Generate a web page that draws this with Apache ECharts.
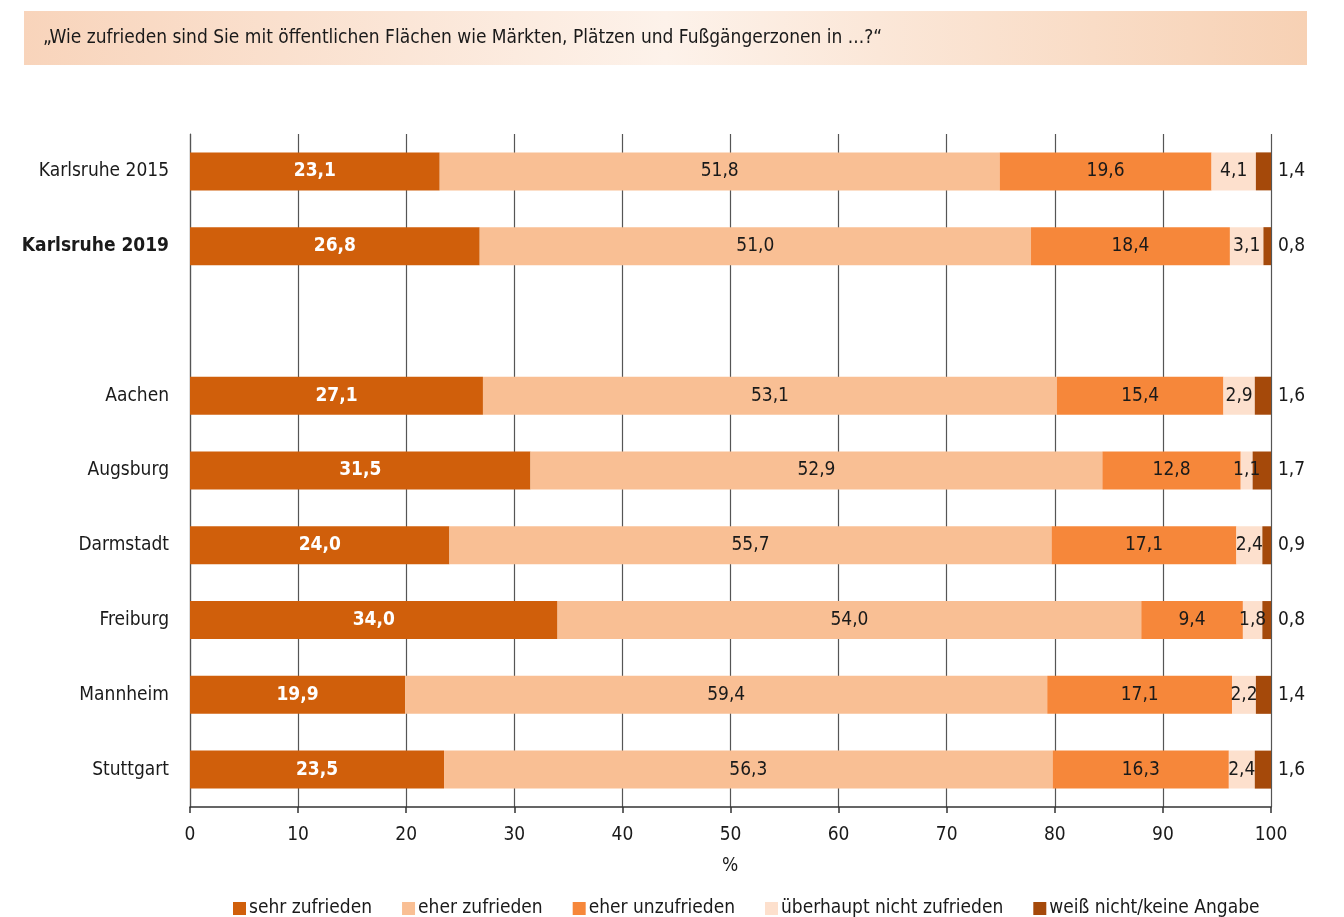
<!DOCTYPE html>
<html>
<head>
<meta charset="utf-8">
<script src="https://cdn.jsdelivr.net/npm/echarts@6/dist/echarts.min.js"></script>
<style>
  html, body { margin: 0; padding: 0; background: #fff; }
  #chart { width: 1344px; height: 917px; }
</style>
</head>
<body>
<div id="chart"></div>
<script>
const cities = ['Karlsruhe 2015', 'Karlsruhe 2019', '', 'Aachen', 'Augsburg', 'Darmstadt', 'Freiburg', 'Mannheim', 'Stuttgart']
const seriesNames = ['sehr zufrieden', 'eher zufrieden', 'eher unzufrieden', 'überhaupt nicht zufrieden', 'weiß nicht/keine Angabe']
const sehrZufrieden = [23.1, 26.8, null, 27.1, 31.5, 24.0, 34.0, 19.9, 23.5]
const eherZufrieden = [51.8, 51.0, null, 53.1, 52.9, 55.7, 54.0, 59.4, 56.3]
const eherUnzufrieden = [19.6, 18.4, null, 15.4, 12.8, 17.1, 9.4, 17.1, 16.3]
const garNicht = [4.1, 3.1, null, 2.9, 1.1, 2.4, 1.8, 2.2, 2.4]
const weissNicht = [1.4, 0.8, null, 1.6, 1.7, 0.9, 0.8, 1.4, 1.6]
const xTicks = [0, 10, 20, 30, 40, 50, 60, 70, 80, 90, 100]

const FONT = '"Liberation Sans Narrow", "DejaVu Sans Condensed", "Open Sans", sans-serif'
const colors = ['#d05f0b', '#f9bf94', '#f6873a', '#fde0cd', '#a5490a']
const fmt = v => v.toFixed(1).replace('.', ',')

const chart = echarts.init(document.getElementById('chart'))

const allData = [sehrZufrieden, eherZufrieden, eherUnzufrieden, garNicht, weissNicht]
const series = allData.map((d, i) => ({
  name: seriesNames[i],
  type: 'bar',
  stack: 'total',
  barWidth: 38,
  data: d,
  itemStyle: { color: colors[i] },
  label: {
    show: true,
    position: i === 4 ? 'right' : 'inside',
    distance: 7,
    formatter: p => p.value == null ? '' : fmt(p.value),
    color: i === 0 ? '#fff' : '#1a1a1a',
    fontWeight: i === 0 ? 'bold' : 'normal',
    fontSize: 19,
    fontFamily: FONT,
    padding: [3, 0, 0, 0]
  }
}))

chart.setOption({
  animation: false,
  color: colors,
  graphic: [
    {
      type: 'rect',
      shape: { x: 24, y: 11, width: 1283, height: 54 },
      style: {
        fill: new echarts.graphic.LinearGradient(0, 0, 1, 0, [
          { offset: 0, color: '#f8d4bb' },
          { offset: 0.5, color: '#fdf2ea' },
          { offset: 1, color: '#f7d1b4' }
        ])
      },
      z: -1
    },
    {
      type: 'text',
      left: 43,
      top: 29,
      style: {
        text: '„Wie zufrieden sind Sie mit öffentlichen Flächen wie Märkten, Plätzen und Fußgängerzonen in ...?“',
        fill: '#1a1a1a',
        font: '19px ' + FONT
      }
    },
    {
      type: 'text',
      left: 722,
      top: 857,
      style: { text: '%', fill: '#1a1a1a', font: '19px ' + FONT }
    }
  ],
  legend: {
    data: seriesNames,
    left: 228,
    top: 894,
    itemWidth: 13,
    itemHeight: 13,
    itemGap: 30,
    icon: 'rect',
    textStyle: { fontSize: 19, color: '#1a1a1a', fontFamily: FONT, padding: [0, 0, 0, -2] }
  },
  grid: {
    left: 190,
    right: 73,
    top: 134,
    bottom: 110,
    containLabel: false
  },
  xAxis: {
    type: 'value',
    min: 0,
    max: 100,
    interval: 10,
    axisLine: { show: true, lineStyle: { color: '#333', width: 1.5 } },
    axisTick: { show: true, length: 6, lineStyle: { color: '#333', width: 1.5 } },
    axisLabel: {
      color: '#1a1a1a',
      fontSize: 19,
      fontFamily: FONT,
      margin: 19,
      formatter: v => xTicks.includes(v) ? String(v) : ''
    },
    splitLine: { show: true, lineStyle: { color: '#555', width: 1.2 } }
  },
  yAxis: {
    type: 'category',
    inverse: true,
    data: cities.map((c, i) => i === 1 ? { value: c, textStyle: { fontWeight: 'bold' } } : c),
    axisLine: { show: true, lineStyle: { color: '#555', width: 1.2 } },
    axisTick: { show: false },
    axisLabel: {
      color: '#1a1a1a',
      fontSize: 19,
      fontFamily: FONT,
      margin: 21,
      padding: [3, 0, 0, 0]
    }
  },
  series
})
</script>
</body>
</html>
